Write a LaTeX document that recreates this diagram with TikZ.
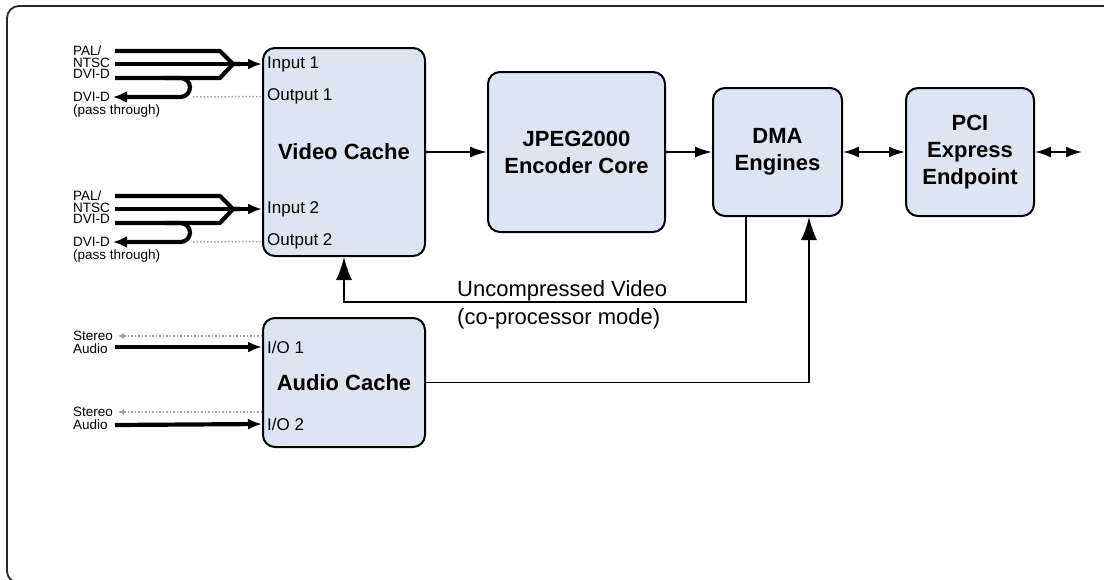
\documentclass[tikz,border=0pt]{standalone}
\usepackage{fontspec}
\setmainfont{Liberation Sans}
\usetikzlibrary{arrows.meta}
\definecolor{boxfill}{RGB}{222,229,242}
\definecolor{framec}{RGB}{40,40,40}
\definecolor{dotgray}{RGB}{160,160,160}
\begin{document}
\begin{tikzpicture}[x=1pt,y=-1pt,
 blk/.style={draw=black, line width=2pt, fill=boxfill, rounded corners=12pt, align=center, font=\fontsize{22}{27}\selectfont\bfseries, inner sep=0pt},
 port/.style={anchor=west, inner sep=0pt, font=\fontsize{17}{20}\selectfont},
 sig/.style={anchor=west, inner sep=0pt, font=\fontsize{13.5}{14}\selectfont},
 aud/.style={anchor=west, inner sep=0pt, font=\fontsize{13.5}{14}\selectfont},
 conn/.style={line width=1.8pt, -{Latex[length=17pt,width=11pt]}},
 bconn/.style={line width=1.8pt, -{Latex[length=23pt,width=16pt]}},
 dconn/.style={line width=1.8pt, {Latex[length=16pt,width=11pt]}-{Latex[length=16pt,width=11pt]}},
 thk/.style={line width=4.2pt, line join=round},
 tarr/.style={line width=4.2pt, -{Latex[length=14pt,width=11pt]}},
 dots/.style={draw=dotgray, line width=1.5pt, dotted},
 darr/.style={dots, -{Latex[length=6pt,width=6pt]}},
]
\clip (0,0) rectangle (1104,579);
% outer frame
\draw[framec, line width=1.8pt, rounded corners=12pt] (1130,6) -- (7,6) -- (7,583) -- (1130,583);

% blocks
\node[blk, minimum width=162pt, minimum height=208pt] (vc) at (344,152) {Video Cache};
\node[blk, minimum width=177pt, minimum height=160pt] (jpeg) at (576.5,152) {JPEG2000\\Encoder Core};
\node[blk, minimum width=129pt, minimum height=128pt] (dma) at (777.5,152) {DMA\\Engines};
\node[blk, minimum width=128pt, minimum height=128pt] (pci) at (970,152) {PCI\\Express\\Endpoint};
\node[blk, minimum width=162pt, minimum height=129pt] (ac) at (344,382.5) {Audio Cache};

% port labels
\node[port] (in1) at (267,64) {Input 1};
\node[port] (out1) at (267,96.5) {Output 1};
\node[port] (in2) at (267,209) {Input 2};
\node[port] (out2) at (267,241.5) {Output 2};
\node[port] (io1) at (267,347) {I/O 1};
\node[port] (io2) at (267,424) {I/O 2};

% left signal labels, group 1
\node[sig] (pal1) at (73,51) {PAL/};
\node[sig] (ntsc1) at (73,63) {NTSC};
\node[sig] (dvi1) at (73,74) {DVI-D};
\node[sig] (dvo1) at (73,97) {DVI-D};
\node[sig] (pt1) at (73,111.5) {(pass through)};
% group 2
\node[sig] (pal2) at (73,196) {PAL/};
\node[sig] (ntsc2) at (73,208) {NTSC};
\node[sig] (dvi2) at (73,219) {DVI-D};
\node[sig] (dvo2) at (73,242) {DVI-D};
\node[sig] (pt2) at (73,256.5) {(pass through)};
% audio labels
\node[aud] (st1) at (73,336) {Stereo};
\node[aud] (au1) at (73,349) {Audio};
\node[aud] (st2) at (73,412) {Stereo};
\node[aud] (au2) at (73,425) {Audio};

% video input group 1
\coordinate (m1) at (233,64);
\draw[thk] (115,51) -- (220,51) -- (m1) -- (240,64);
\draw[thk] (115,78) -- (220,78) -- (m1) -- (240,64);
\draw[tarr] (115,64) -- (vc.west |- in1.west);
\draw[thk, rounded corners=9.5pt, -{Latex[length=14pt,width=12pt]}] (165,78) -- (190,78) -- (190,97) -- (113,97);
\draw[dots] (193,97) -- (vc.west |- out1.west);

% video input group 2
\coordinate (m2) at (233,209);
\draw[thk] (115,196) -- (220,196) -- (m2) -- (240,209);
\draw[thk] (115,223) -- (220,223) -- (m2) -- (240,209);
\draw[tarr] (115,209) -- (vc.west |- in2.west);
\draw[thk, rounded corners=9.5pt, -{Latex[length=14pt,width=12pt]}] (165,223) -- (190,223) -- (190,242) -- (113,242);
\draw[dots] (193,242) -- (vc.west |- out2.west);

% audio signals
\coordinate (a1) at (118,336);
\coordinate (a2) at (118,412);
\draw[darr] (ac.west |- a1) -- (a1);
\draw[darr] (ac.west |- a2) -- (a2);
\draw[tarr] (115,347) -- (ac.west |- io1.west);
\draw[tarr] (115,425) -- (ac.west |- io2.west);

% main chain
\draw[conn] (vc.east) -- (jpeg.west);
\draw[conn] (jpeg.east) -- (dma.west);
\draw[dconn] (dma.east) -- (pci.west);
\coordinate (pout) at (1082,152);
\draw[dconn] (pci.east) -- (pout);

% uncompressed video loop
\coordinate (u1) at (746,302);
\coordinate (u2) at (344,302);
\draw[bconn] (dma.south -| u1) -- (u1) -- (u2) -- (vc.south);
\node[anchor=west, inner sep=0pt, align=left, font=\fontsize{22}{28}\selectfont] (ulab) at (457,305) {Uncompressed Video\\(co-processor mode)};

% audio to DMA
\coordinate (pa) at (809,382.5);
\draw[bconn] (ac.east) -- (pa) -- (dma.south -| pa);
\end{tikzpicture}
\end{document}
